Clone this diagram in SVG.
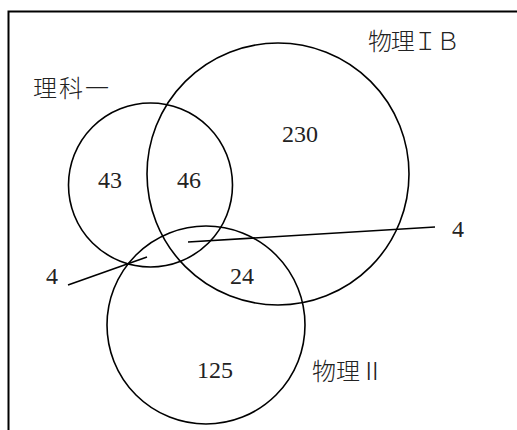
<svg xmlns="http://www.w3.org/2000/svg" width="517" height="430" viewBox="0 0 517 430">
<style>
.c{fill:none;stroke:#000;stroke-width:1.6}
.l{stroke:#000;stroke-width:1.6;fill:none}
.t{font-family:"Liberation Serif","DejaVu Serif",serif;font-size:24px;fill:#222}
.j{font-family:"Noto Sans CJK JP","Noto Sans CJK SC",sans-serif;font-size:24px;fill:#222;font-weight:300}
</style>
<rect x="0" y="0" width="517" height="430" fill="#fff"/>
<path d="M8.5,431 V11.5 H520" fill="none" stroke="#000" stroke-width="2"/>
<g id="set-rika1">
<circle class="c" cx="150.5" cy="185" r="82"/>
<text class="j" x="33" y="97" textLength="76">理科一</text>
</g>
<g id="set-butsuri1b">
<circle class="c" cx="278" cy="174" r="131"/>
<text class="j" x="368" y="50" textLength="92">物理ＩＢ</text>
</g>
<g id="set-butsuri2">
<circle class="c" cx="206" cy="325" r="99"/>
<text class="j" x="312" y="380" textLength="72">物理Ⅱ</text>
</g>
<g id="counts">
<text class="t" x="98" y="188">43</text>
<text class="t" x="177" y="188">46</text>
<text class="t" x="282" y="142">230</text>
<text class="t" x="230" y="284">24</text>
<text class="t" x="197" y="378">125</text>
<text class="t" x="46" y="284">4</text>
<text class="t" x="452" y="237">4</text>
</g>
<g id="connectors">
<line class="l" x1="68" y1="285" x2="147" y2="257"/>
<line class="l" x1="188" y1="242" x2="435" y2="227"/>
</g>
</svg>
